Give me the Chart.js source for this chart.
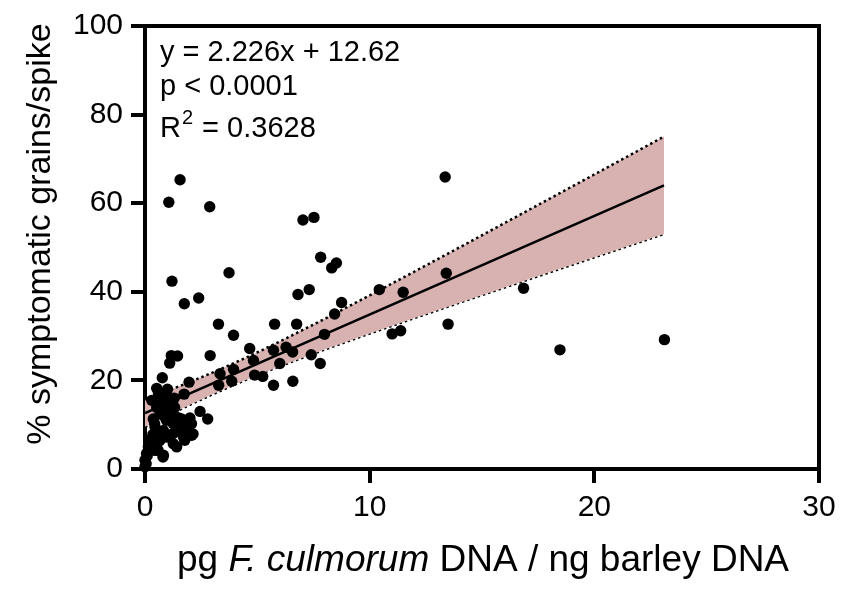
<!DOCTYPE html>
<html>
<head>
<meta charset="utf-8">
<script src="https://cdn.jsdelivr.net/npm/chart.js@4.4.1/dist/chart.umd.min.js"></script>
<style>
  body { margin: 0; background: #fff; }
  #wrap { width: 848px; height: 589px; }
</style>
</head>
<body>
<div id="wrap"><canvas id="chart" width="848" height="589"></canvas></div>
<script>
// scatter points
const dnaX = [13.36, 1.56, 1.06, 2.88, 7.03, 7.52, 7.82, 8.52, 8.31, 3.74, 13.41, 1.20, 6.81, 7.31, 10.43, 11.49, 16.85, 1.75, 2.39, 8.75,
  8.44, 3.27, 5.77, 6.75, 7.99, 11.0, 11.38, 13.49, 3.94, 18.47, 23.12, 4.66, 5.72, 6.28, 6.57, 4.83, 6.0, 7.40, 7.80, 4.88,
  5.24, 5.72, 6.58, 2.9, 3.34, 3.94, 3.28, 3.86, 1.17, 1.45, 1.10, 0.77, 1.96, 0.52, 0.74, 1.74, 2.45, 2.79, 0.37, 0.45,
  1.63, 2.0, 1.49, 1.86, 2.08, 1.71, 1.26, 1.41, 0.82, 0.97, 0.67, 0.52, 0.22, 0.15, 0.82, 0.07, 0.0, 0.0, 0.45, 0.97,
  1.11, 0.82, 0.52, 1.11, 1.26, 0.67, 2.07, 2.14, 1.62, 1.77, 0.73, 0.43, 0.58, 0.8, 0.28, 1.17, 1.47, 0.88, 1.32, 0.6,
  0.9, 1.0, 1.3, 0.3, 0.6, 1.0, 0.1, 0.05, 0.2, 0.35, 0.95, 1.25];
const grainsY = [65.9, 65.3, 60.2, 59.2, 56.2, 56.8, 47.8, 46.5, 45.4, 44.3, 44.2, 42.4, 39.4, 40.5, 40.5, 39.9, 40.8, 37.3, 38.6, 37.6,
  35.0, 32.7, 32.7, 32.7, 30.4, 30.5, 31.2, 32.7, 30.2, 26.9, 29.2, 27.2, 26.8, 27.5, 26.4, 24.5, 23.8, 25.8, 23.8, 21.2,
  20.9, 18.9, 19.8, 25.6, 21.5, 22.5, 18.9, 19.8, 25.6, 25.5, 23.9, 20.6, 19.6, 18.2, 16.9, 16.9, 13.0, 11.3, 11.3, 9.4,
  11.3, 11.5, 9.4, 9.4, 7.6, 7.2, 5.7, 5.0, 8.7, 7.2, 6.5, 5.3, 6.5, 5.0, 3.1, 3.5, 2.0, 0.5, 4.2, 13.9,
  15.0, 16.1, 13.9, 12.4, 10.2, 12.4, 10.2, 7.9, 8.3, 6.5, 8.3, 10.2, 4.2, 2.7, 5.7, 10.9, 11.6, 13.1, 13.9, 17.0,
  15.0, 18.0, 16.0, 15.5, 14.5, 16.5, 3.0, 1.2, 4.5, 7.8, 11.0, 8.0];

// regression line y = 2.226x + 12.62, ends of the drawn segment
const fitX = [0, 23.1];
const fitY = [12.62, 64.04];

// confidence band edges
const bandX = [0, 1, 2, 3, 4, 5, 6, 8, 10, 12, 14, 16, 18, 20, 22, 23.1];
const bandUpper = [15.72, 17.64, 19.64, 21.75, 23.97, 26.32, 28.77, 33.89, 39.19, 44.58, 50.02, 55.50, 60.99, 66.49, 72.00, 75.04];
const bandLower = [9.52, 12.06, 14.50, 16.85, 19.07, 21.18, 23.19, 26.97, 30.57, 34.08, 37.54, 40.98, 44.39, 47.79, 51.18, 53.04];

const statLines = ['y = 2.226x + 12.62', 'p < 0.0001'];
const r2Text = ' = 0.3628';

const FONT = '"Liberation Sans", Arial, sans-serif';

function pairs(xs, ys) {
  return xs.map((x, i) => ({ x: x, y: ys[i] }));
}

const decorPlugin = {
  id: 'decor',
  afterDraw(chart) {
    const ctx = chart.ctx;
    const a = chart.chartArea;
    ctx.save();
    // top and right frame lines
    ctx.strokeStyle = '#000';
    ctx.lineWidth = 4;
    ctx.beginPath();
    ctx.moveTo(a.left - 2, a.top);
    ctx.lineTo(a.right, a.top);
    ctx.lineTo(a.right, a.bottom + 2);
    ctx.stroke();

    ctx.fillStyle = '#000';
    ctx.textBaseline = 'alphabetic';
    ctx.textAlign = 'left';

    // stats text
    ctx.font = '29px ' + FONT;
    ctx.fillText(statLines[0], 160, 61);
    ctx.fillText(statLines[1], 160, 95);
    ctx.fillText('R', 160, 137);
    let w = ctx.measureText('R').width;
    ctx.font = '20px ' + FONT;
    ctx.fillText('2', 160 + w + 1, 124);
    let w2 = ctx.measureText('2').width;
    ctx.font = '29px ' + FONT;
    ctx.fillText(r2Text, 160 + w + w2 + 2, 137);

    // x axis title with italic species name
    const parts = [
      { t: 'pg ', f: '37px ' + FONT },
      { t: 'F. culmorum', f: 'italic 37px ' + FONT },
      { t: ' DNA / ng barley DNA', f: '37px ' + FONT }
    ];
    let total = 0;
    parts.forEach(p => { ctx.font = p.f; p.w = ctx.measureText(p.t).width; total += p.w; });
    let x = 483 - total / 2;
    parts.forEach(p => { ctx.font = p.f; ctx.fillText(p.t, x, 571); x += p.w; });

    // y axis title
    ctx.translate(50, 234);
    ctx.rotate(-Math.PI / 2);
    ctx.textAlign = 'center';
    ctx.font = '34px ' + FONT;
    ctx.fillText('% symptomatic grains/spike', 0, 0);
    ctx.restore();
  }
};

new Chart(document.getElementById('chart'), {
  type: 'scatter',
  data: {
    datasets: [
      {
        label: 'samples',
        data: pairs(dnaX, grainsY),
        backgroundColor: '#000',
        borderWidth: 0,
        pointRadius: 5.7,
        pointHoverRadius: 5.7,
        clip: false
      },
      {
        type: 'line',
        label: 'fit',
        data: pairs(fitX, fitY),
        borderColor: '#000',
        borderWidth: 2.5,
        pointRadius: 0,
        fill: false
      },
      {
        type: 'line',
        label: 'upper',
        data: pairs(bandX, bandUpper),
        borderColor: '#000',
        borderWidth: 2.5,
        borderDash: [2.5, 3],
        pointRadius: 0,
        backgroundColor: 'rgb(216, 177, 177)',
        fill: '+1'
      },
      {
        type: 'line',
        label: 'lower',
        data: pairs(bandX, bandLower),
        borderColor: '#000',
        borderWidth: 2.5,
        borderDash: [2.5, 3],
        pointRadius: 0,
        fill: false
      }
    ]
  },
  options: {
    responsive: false,
    animation: false,
    layout: { padding: { left: 0, top: 20, right: 29, bottom: 0 } },
    plugins: {
      legend: { display: false },
      tooltip: { enabled: false }
    },
    scales: {
      x: {
        type: 'linear',
        min: 0,
        max: 30,
        afterFit: function(scale) { scale.height = 120; },
        ticks: {
          stepSize: 10,
          color: '#000',
          padding: 7,
          font: { family: FONT, size: 30 }
        },
        grid: {
          drawOnChartArea: false,
          drawTicks: true,
          tickLength: 14,
          tickWidth: 4,
          lineWidth: 4,
          tickColor: '#000'
        },
        border: { display: true, color: '#000', width: 4 }
      },
      y: {
        min: 0,
        max: 100,
        afterFit: function(scale) { scale.width = 145; },
        ticks: {
          stepSize: 20,
          color: '#000',
          padding: 8,
          font: { family: FONT, size: 30 }
        },
        grid: {
          drawOnChartArea: false,
          drawTicks: true,
          tickLength: 14,
          tickWidth: 4,
          lineWidth: 4,
          tickColor: '#000'
        },
        border: { display: true, color: '#000', width: 4 }
      }
    }
  },
  plugins: [decorPlugin]
});
</script>
</body>
</html>
